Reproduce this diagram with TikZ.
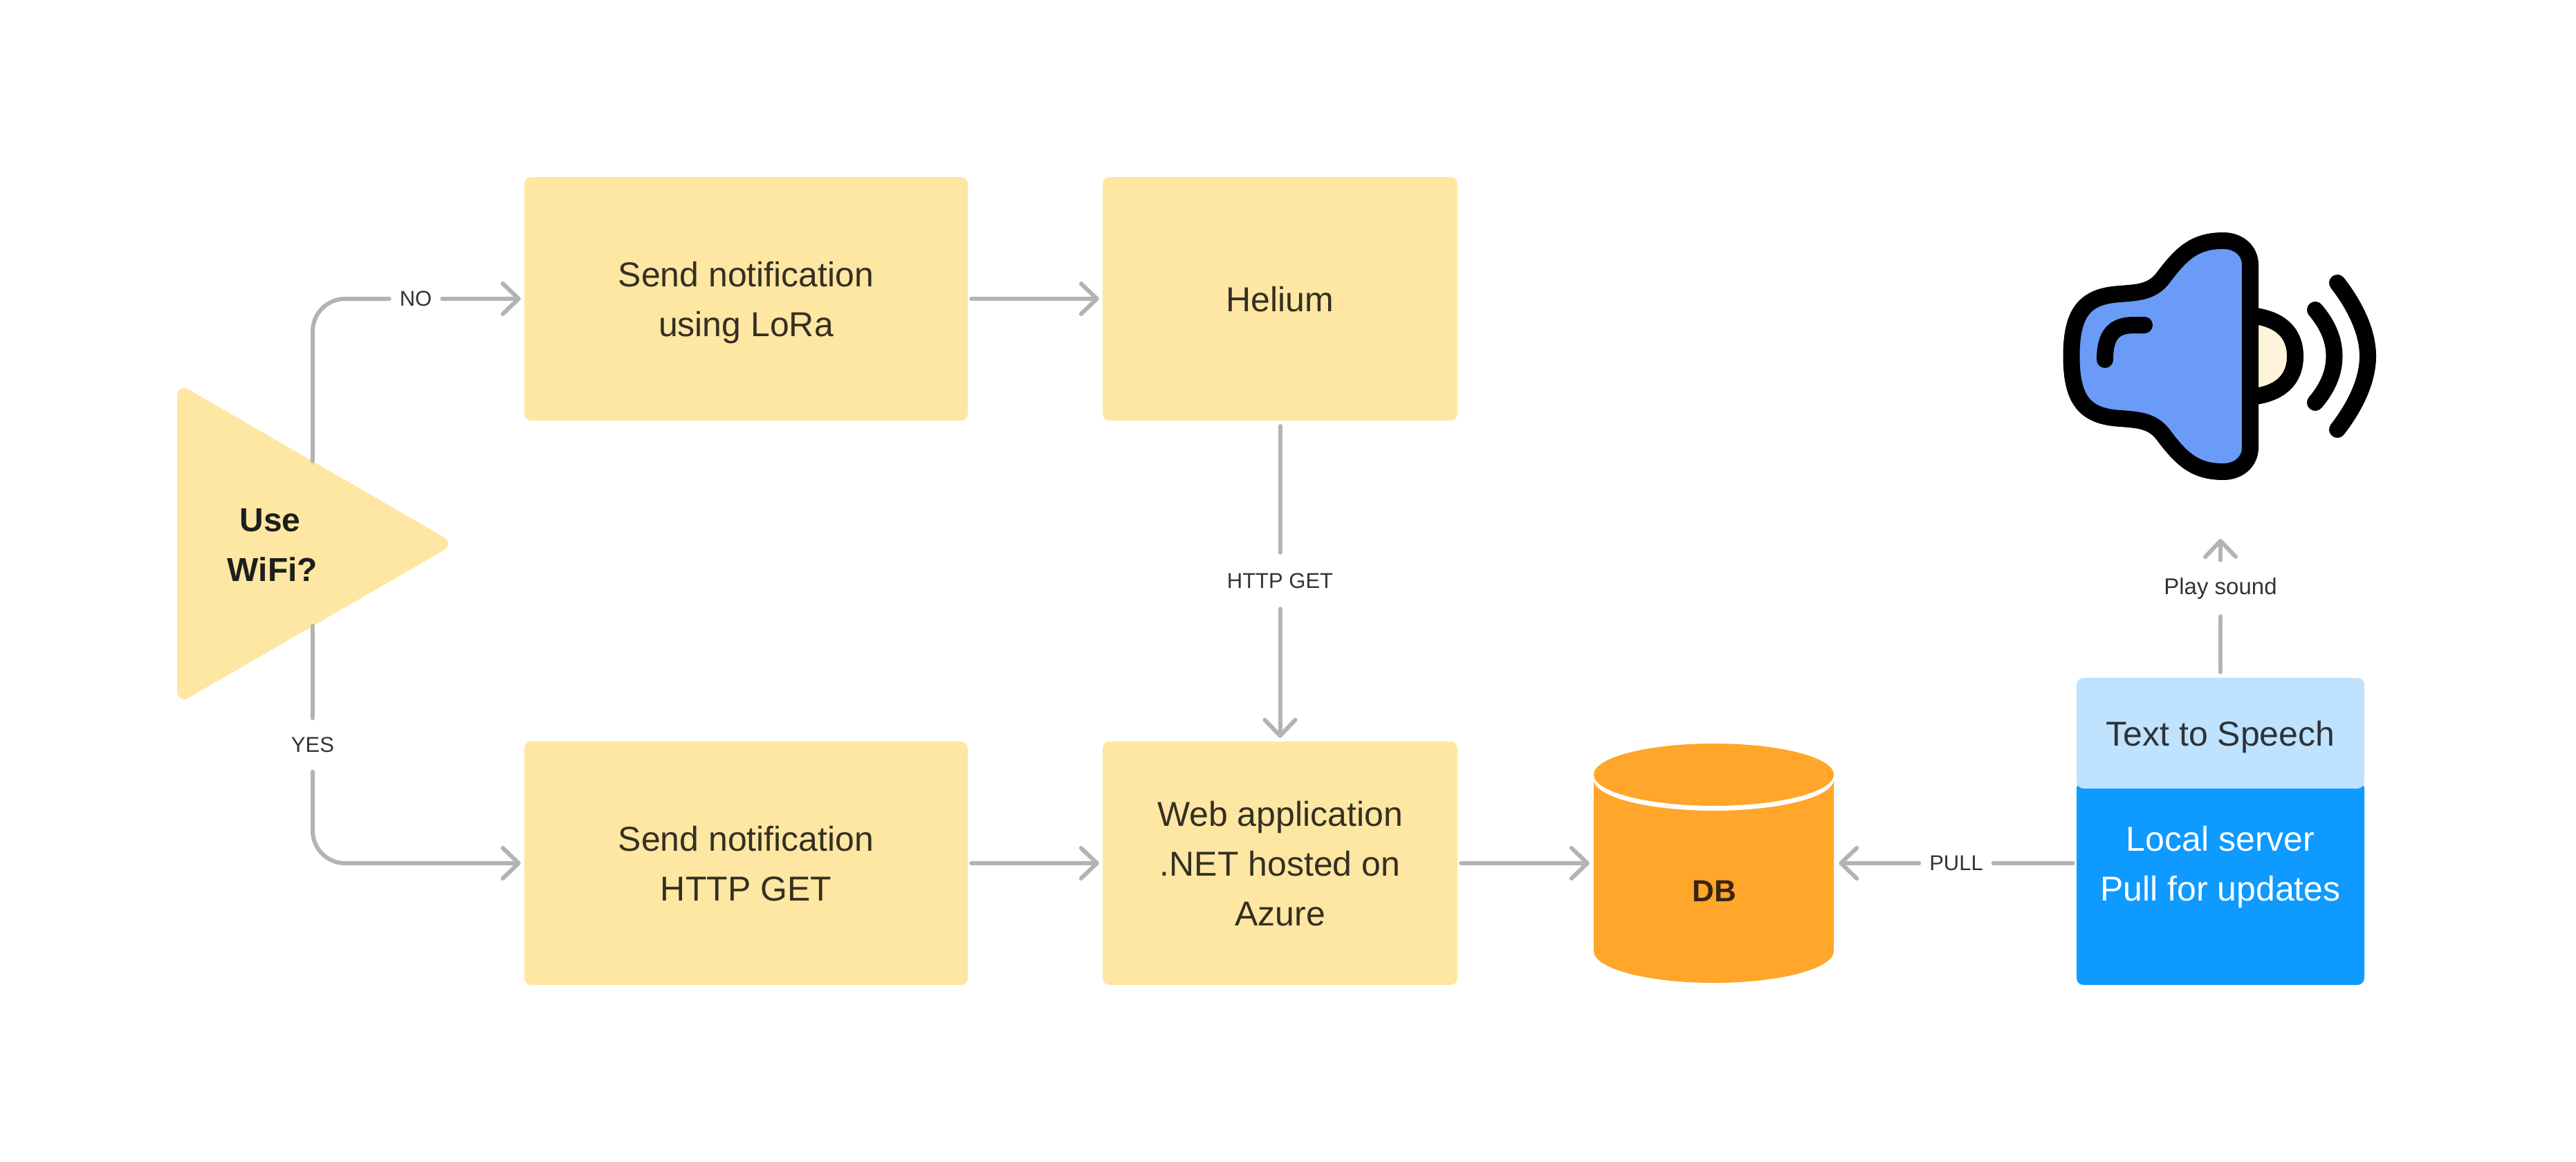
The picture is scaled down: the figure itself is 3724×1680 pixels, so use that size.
\documentclass[tikz,border=0pt]{standalone}
\usepackage{fontspec}
\setmainfont{Liberation Sans}
\usetikzlibrary{arrows.meta}
\definecolor{boxyellow}{HTML}{FEE7A3}
\definecolor{linegray}{HTML}{B3B3B3}
\definecolor{inkbox}{HTML}{352F22}
\definecolor{inklab}{HTML}{333333}
\definecolor{inkbold}{HTML}{1E1E1E}
\definecolor{inkblue}{HTML}{2E3238}
\definecolor{inkdb}{HTML}{3A2510}
\definecolor{dbor}{HTML}{FFA62B}
\definecolor{lightb}{HTML}{BFE3FF}
\definecolor{deepb}{HTML}{0E9AFF}
\definecolor{spkblue}{HTML}{6A9BF6}
\definecolor{cream}{HTML}{FFF3D9}
\newcommand{\lnstrut}{\rule[-17.5pt]{0pt}{72pt}}
\tikzset{
  x=1pt,y=-1pt,
  boxy/.style={rectangle,rounded corners=10pt,inner sep=0pt,fill=boxyellow,text=inkbox,align=center,
    font=\fontsize{50}{72}\selectfont},
  lab/.style={inner sep=0pt,text=inklab,font=\fontsize{31}{40}\selectfont},
  conn/.style={draw=linegray,line width=6pt,line cap=round},
  arr/.style={conn,-{Straight Barb[length=23pt,width=44pt,round]}},
  spk/.style={draw=black,line width=24pt,line cap=round,line join=round}
}
\begin{document}
\begin{tikzpicture}
\useasboundingbox (0,0) rectangle (3724,1680);
% triangle
\fill[boxyellow,rounded corners=20pt] (256,553.5) -- (658,786) -- (256,1018.5) -- cycle;
\node[inner sep=0pt,align=center,text=inkbold,font=\fontsize{48}{72}\selectfont\bfseries] (wifi) at (394,786) {\lnstrut Use\rule{7pt}{0pt}\\\lnstrut WiFi?};
\coordinate (tritop) at (452,667);
\coordinate (tribot) at (452,905);
% boxes
\node[boxy,minimum width=641pt,minimum height=352pt] (lora) at (1078.5,432) {\lnstrut Send notification\\\lnstrut using LoRa};
\node[boxy,minimum width=513pt,minimum height=352pt] (helium) at (1850.5,432) {\lnstrut Helium};
\node[boxy,minimum width=641pt,minimum height=352pt] (http) at (1078.5,1248) {\lnstrut Send notification\\\lnstrut HTTP GET};
\node[boxy,minimum width=513pt,minimum height=352pt] (web) at (1850.5,1248) {\lnstrut Web application\\\lnstrut .NET hosted on\\\lnstrut Azure};
% database
\fill[dbor] (2304,1127) -- (2304,1375) arc[start angle=180,end angle=360,x radius=173.5,y radius=-46] -- (2651,1127) -- cycle;
\fill[white] (2477.5,1127) ellipse[x radius=173.5,y radius=45];
\fill[dbor] (2477.5,1120) ellipse[x radius=173.5,y radius=45];
\node[inner sep=0pt,minimum width=347pt,minimum height=346pt] (db) at (2477.5,1248) {};
\node[inner sep=0pt,text=inkdb,font=\fontsize{44}{52}\selectfont\bfseries] (dbtext) at (2478,1288) {DB};
% server
\node[rectangle,rounded corners=10pt,inner sep=0pt,fill=deepb,minimum width=416pt,minimum height=294pt] (srv) at (3210,1277) {};
\node[inner sep=0pt,text=white,align=center,font=\fontsize{50}{72}\selectfont] (srvtext) at (3210,1248) {\lnstrut Local server\\\lnstrut Pull for updates};
\node[rectangle,rounded corners=10pt,inner sep=0pt,fill=lightb,text=inkblue,minimum width=416pt,minimum height=160pt,font=\fontsize{50}{72}\selectfont] (tts) at (3210,1060) {\lnstrut Text to Speech};
% labels
\node[lab,minimum width=76pt,minimum height=40pt] (no) at (601,432) {NO};
\node[lab,minimum width=80pt,minimum height=77pt] (yes) at (452,1077) {YES};
\node[lab,minimum width=160pt,minimum height=81pt] (get) at (1850.5,839.5) {HTTP GET};
\node[lab,minimum width=107pt,minimum height=40pt] (pull) at (2828,1248) {PULL};
\node[lab,font=\fontsize{33}{40}\selectfont,minimum width=170pt,minimum height=81pt] (play) at (3210,850.5) {\raisebox{-3pt}{Play sound}};
\coordinate (sound) at (3210,779);
% connectors
\draw[conn,rounded corners=47pt] (tritop) |- (no.west);
\draw[arr,shorten >=5pt] (no.east) -- (lora.west);
\draw[arr,shorten <=5pt,shorten >=5pt] (lora.east) -- (helium.west);
\draw[conn,shorten <=8pt] (helium.south) -- (get.north);
\draw[arr,shorten >=5pt] (get.south) -- (web.north);
\draw[conn] (tribot) -- (yes.north);
\draw[arr,rounded corners=47pt,shorten >=5pt] (yes.south) |- (http.west);
\draw[arr,shorten <=5pt,shorten >=5pt] (http.east) -- (web.west);
\draw[arr,shorten <=5pt,shorten >=6pt] (web.east) -- (db.west);
\draw[arr,shorten >=7pt] (pull.west) -- (db.east);
\draw[conn,shorten <=5pt] (srv.west |- pull) -- (pull.east);
\draw[conn,shorten <=8pt] (tts.north) -- (play.south);
\draw[arr] (play.north) -- (sound);
% speaker
\draw[spk,fill=cream] (3253,456) .. controls (3295,460) and (3318,480) .. (3318,515)
  .. controls (3318,550) and (3295,570) .. (3253,574);
\draw[spk,fill=spkblue] (3253,515) -- (3253,383)
  .. controls (3253,363) and (3237,348) .. (3214,348)
  .. controls (3172,348) and (3153,367) .. (3126,403)
  .. controls (3110,423) and (3088,423) .. (3065,425)
  .. controls (3015,428) and (2994.5,450) .. (2994.5,515)
  .. controls (2994.5,580) and (3015,602) .. (3065,605)
  .. controls (3088,607) and (3110,607) .. (3126,627)
  .. controls (3153,663) and (3172,682) .. (3214,682)
  .. controls (3237,682) and (3253,667) .. (3253,647) -- cycle;
\draw[spk] (3043,520) .. controls (3043,485) and (3055,470) .. (3085,470) -- (3100,470);
\draw[spk] (3347,448) .. controls (3364,468) and (3374.5,490) .. (3374.5,515)
  .. controls (3374.5,540) and (3364,562) .. (3347,582);
\draw[spk] (3379,409) .. controls (3403,440) and (3423,478) .. (3423,515)
  .. controls (3423,552) and (3403,590) .. (3379,621);
\end{tikzpicture}
\end{document}
